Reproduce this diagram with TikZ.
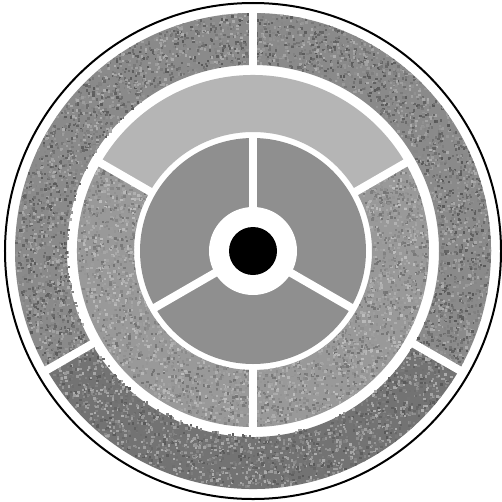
\documentclass[tikz,border=0pt]{standalone}
\begin{document}
\begin{tikzpicture}[x=1pt,y=1pt,
  spoke/.style={white,line width=8pt},
  outline/.style={black,line width=2pt}]
\useasboundingbox[fill=white] (-253,-250) rectangle (249,251);
\def\annsec#1#2#3#4{(#1:#4) arc[start angle=#1,end angle=#2,radius=#4] -- (#2:#3) arc[start angle=#2,end angle=#1,radius=#3] -- cycle}
% outer ring
\fill[black!46] \annsec{-30}{210}{186}{238};
\fill[black!55] \annsec{210}{330}{186}{238};
% middle ring
\fill[black!29] \annsec{30}{150}{119}{176};
\fill[black!40] \annsec{150}{390}{119}{176};
% inner disc
\fill[black!44] (0,0) circle[radius=113];
% texture
\pgfmathsetseed{7}
\begin{scope}
\clip (0,0) circle[radius=238] (0,0) circle[radius=186];
\foreach \i in {1,...,6000}{
  \pgfmathsetmacro{\rr}{10*sqrt(18.6*18.6+rnd*(23.8*23.8-18.6*18.6))}
  \pgfmathsetmacro{\aa}{360*rnd}
  \pgfmathsetmacro{\gg}{int(32+34*rnd)}
  \fill[black!\gg] (\aa:\rr) rectangle ++(2.4,2.4);
}
\end{scope}
\begin{scope}
\clip \annsec{150}{390}{119}{176};
\foreach \i in {1,...,3000}{
  \pgfmathsetmacro{\rr}{10*sqrt(11.9*11.9+rnd*(17.6*17.6-11.9*11.9))}
  \pgfmathsetmacro{\aa}{150+240*rnd}
  \pgfmathsetmacro{\gg}{int(26+30*rnd)}
  \fill[black!\gg] (\aa:\rr) rectangle ++(2.4,2.4);
}
\end{scope}
% spokes
\coordinate (c) at (0,0);
\foreach \a in {90,210,330}{
  \draw[spoke] (\a:183) -- (\a:241);
  \draw[spoke] (\a:40) -- (\a:116);
}
\foreach \a in {30,150,270}{
  \draw[spoke] (\a:116) -- (\a:179);
}
% hub
\fill[white] (c) circle[radius=44];
\fill[black] (c) circle[radius=24];
% outline
\draw[outline] (c) circle[radius=248];
\end{tikzpicture}
\end{document}
